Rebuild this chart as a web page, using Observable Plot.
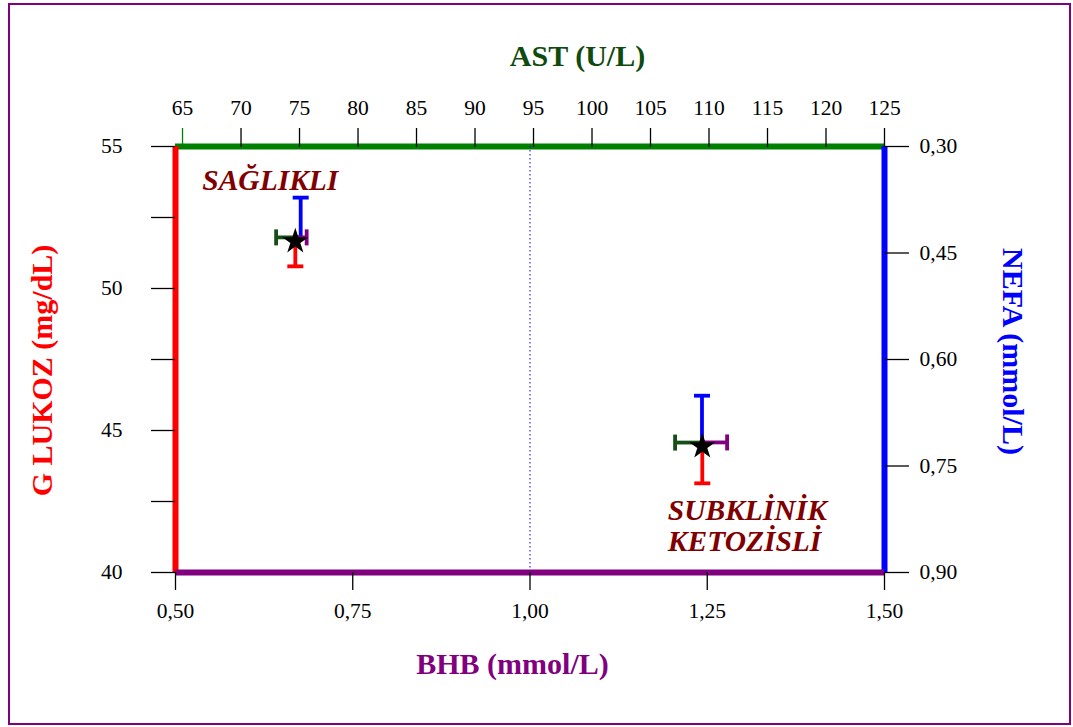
<!DOCTYPE html>
<html>
<head>
<meta charset="utf-8">
<script src="https://cdn.jsdelivr.net/npm/d3@7"></script>
<script src="https://cdn.jsdelivr.net/npm/@observablehq/plot@0.6"></script>
<style>
  body { margin: 0; background: #fff; }
  #wrap { position: relative; width: 1073px; height: 727px; overflow: hidden; background: #fff; }
  #wrap svg { position: absolute; left: 0; top: 0; }
  #border { position: absolute; left: 8px; top: 3px; width: 1063px; height: 722px; box-sizing: border-box; border: 2px solid #800080; }
</style>
</head>
<body>
<div id="wrap"><div id="border"></div></div>
<script>
// ---- data ----
const groups    = ["SAĞLIKLI", "SUBKLİNİK\nKETOZİSLİ"];
const bhb       = [0.669, 1.243];   // mmol/L (bottom axis)
const bhbErr    = [0.016, 0.035];
const glukoz    = [51.80, 44.58];   // mg/dL (left axis)
const glukozErr = [1.02, 1.44];
const ast       = [75.1, 109.4];    // U/L (top axis)
const astErr    = [2.1, 2.3];
const nefa      = [0.428, 0.717];   // mmol/L (right axis, reversed)
const nefaErr   = [0.056, 0.066];

const bhbTicks    = [0.50, 0.75, 1.00, 1.25, 1.50];
const glukozTicks = [40, 42.5, 45, 47.5, 50, 52.5, 55];
const astTicks    = [65, 70, 75, 80, 85, 90, 95, 100, 105, 110, 115, 120, 125];
const nefaTicks   = [0.30, 0.45, 0.60, 0.75, 0.90];
const bhbCutoff   = [1.00];

// ---- table built from the arrays ----
const rows = groups.map((g, i) => ({
  group: g, bhb: bhb[i], bhbErr: bhbErr[i], glukoz: glukoz[i], glukozErr: glukozErr[i],
  ast: ast[i], astErr: astErr[i], nefa: nefa[i], nefaErr: nefaErr[i]
}));

const comma = d => d.toFixed(2).replace(".", ",");
const hline = {draw(ctx, size) { const r = Math.sqrt(size / Math.PI); ctx.moveTo(-r, 0); ctx.lineTo(r, 0); }};
const vline = {draw(ctx, size) { const r = Math.sqrt(size / Math.PI); ctx.moveTo(0, -r); ctx.lineTo(0, r); }};

const W = 1073, H = 727;
const margins = {marginLeft: 175, marginRight: 189, marginTop: 146, marginBottom: 155};
const svgStyle = {background: "transparent", fontFamily: "'Liberation Serif', 'Times New Roman', serif", fontSize: "20px", overflow: "visible"};
const RED = "#ff0000", BLUE = "#0000ff", PURPLE = "#800080", GREEN = "#008000", DKGREEN = "#174d17", MAROON = "#800000";
const BAR = 3.8, CAP = 8, TICKFONT = 21.5, STAR = 8.2;

// ---- layer 2 (drawn first, underneath): AST (x, top) vs NEFA (y, right, reversed) ----
const p2 = Plot.plot({
  width: W, height: H, ...margins, style: svgStyle,
  x: {domain: [64.4, 125], label: null},
  y: {domain: [0.30, 0.90], reverse: true, label: null},
  marks: [
    Plot.ruleY([nefaTicks[0]], {stroke: GREEN, strokeWidth: 6}),
    Plot.ruleX([astTicks[astTicks.length - 1]], {stroke: BLUE, strokeWidth: 6}),
    Plot.axisX(astTicks.slice(1), {anchor: "top", tickSize: 19, tickPadding: 13, strokeWidth: 1.3, fontSize: TICKFONT, label: null}),
    Plot.axisX(astTicks.slice(0, 1), {anchor: "top", tickSize: 19, tickPadding: 13, strokeWidth: 1.3, stroke: GREEN, fill: "black", fontSize: TICKFONT, label: null}),
    Plot.axisY(nefaTicks, {anchor: "right", tickSize: 24, tickPadding: 11, strokeWidth: 1.3, fontSize: TICKFONT, label: null, tickFormat: comma}),
    // NEFA error bars (up) and AST error bars (left)
    Plot.ruleX(rows, {x: "ast", y1: "nefa", y2: d => d.nefa - d.nefaErr, stroke: BLUE, strokeWidth: BAR}),
    Plot.dot(rows, {x: "ast", y: d => d.nefa - d.nefaErr, symbol: hline, r: CAP, fill: "none", stroke: BLUE, strokeWidth: BAR}),
    Plot.ruleY(rows, {y: "nefa", x1: "ast", x2: d => d.ast - d.astErr, stroke: DKGREEN, strokeWidth: BAR}),
    Plot.dot(rows, {x: d => d.ast - d.astErr, y: "nefa", symbol: vline, r: CAP, fill: "none", stroke: DKGREEN, strokeWidth: BAR}),
    // axis titles
    Plot.text(["AST (U/L)"], {frameAnchor: "top", textAnchor: "middle", lineAnchor: "middle", dx: 47.5, dy: -90,
      fill: "#0f4a0f", fontSize: 30, fontWeight: "bold"}),
    Plot.text(["NEFA (mmol/L)"], {frameAnchor: "right", textAnchor: "middle", lineAnchor: "middle", dx: 128, dy: -8, rotate: 90,
      fill: BLUE, fontSize: 30, fontWeight: "bold"})
  ]
});

// ---- layer 1 (on top): BHB (x, bottom) vs GLUKOZ (y, left) ----
const p1 = Plot.plot({
  width: W, height: H, ...margins, style: svgStyle,
  x: {domain: [0.5, 1.5], label: null},
  y: {domain: [40, 55], label: null},
  marks: [
    Plot.ruleX(bhbCutoff, {stroke: BLUE, strokeWidth: 1, strokeDasharray: "1.5,2.5"}),
    Plot.ruleX([bhbTicks[0]], {stroke: RED, strokeWidth: 6}),
    Plot.ruleY([glukozTicks[0]], {stroke: PURPLE, strokeWidth: 6}),
    Plot.axisY(glukozTicks, {anchor: "left", tickSize: 24, tickPadding: 29, strokeWidth: 1.3, fontSize: TICKFONT, label: null,
      tickFormat: d => d % 5 === 0 ? String(d) : ""}),
    Plot.axisX(bhbTicks, {anchor: "bottom", tickSize: 18, tickPadding: 12, strokeWidth: 1.3, fontSize: TICKFONT, label: null, tickFormat: comma}),
    // glukoz error bars (down) and BHB error bars (right)
    Plot.ruleX(rows, {x: "bhb", y1: "glukoz", y2: d => d.glukoz - d.glukozErr, stroke: RED, strokeWidth: BAR}),
    Plot.dot(rows, {x: "bhb", y: d => d.glukoz - d.glukozErr, symbol: hline, r: CAP, fill: "none", stroke: RED, strokeWidth: BAR}),
    Plot.ruleY(rows, {y: "glukoz", x1: "bhb", x2: d => d.bhb + d.bhbErr, stroke: PURPLE, strokeWidth: BAR}),
    Plot.dot(rows, {x: d => d.bhb + d.bhbErr, y: "glukoz", symbol: vline, r: CAP, fill: "none", stroke: PURPLE, strokeWidth: BAR}),
    Plot.dot(rows, {x: "bhb", y: "glukoz", symbol: "star", r: STAR, fill: "black", stroke: "none", dy: 4}),
    // group labels
    Plot.text([rows[0]], {x: "bhb", y: "glukoz", text: "group", textAnchor: "middle", lineAnchor: "top", dx: -25, dy: -68,
      fill: MAROON, fontSize: 29.5, fontWeight: "bold", fontStyle: "italic"}),
    Plot.text([rows[1]], {x: "bhb", y: "glukoz", text: "group", textAnchor: "start", lineAnchor: "top", dx: -34.5, dy: 55, lineHeight: 1.07,
      fill: MAROON, fontSize: 29.5, fontWeight: "bold", fontStyle: "italic"}),
    // axis titles
    Plot.text(["G LUKOZ (mg/dL)"], {frameAnchor: "left", textAnchor: "middle", lineAnchor: "middle", dx: -133, dy: 11, rotate: -90,
      fill: RED, fontSize: 30, fontWeight: "bold"}),
    Plot.text(["BHB (mmol/L)"], {frameAnchor: "bottom", textAnchor: "middle", lineAnchor: "middle", dx: -17.5, dy: 92,
      fill: PURPLE, fontSize: 30, fontWeight: "bold"})
  ]
});

const wrap = document.getElementById("wrap");
wrap.appendChild(p2);
wrap.appendChild(p1);
</script>
</body>
</html>
